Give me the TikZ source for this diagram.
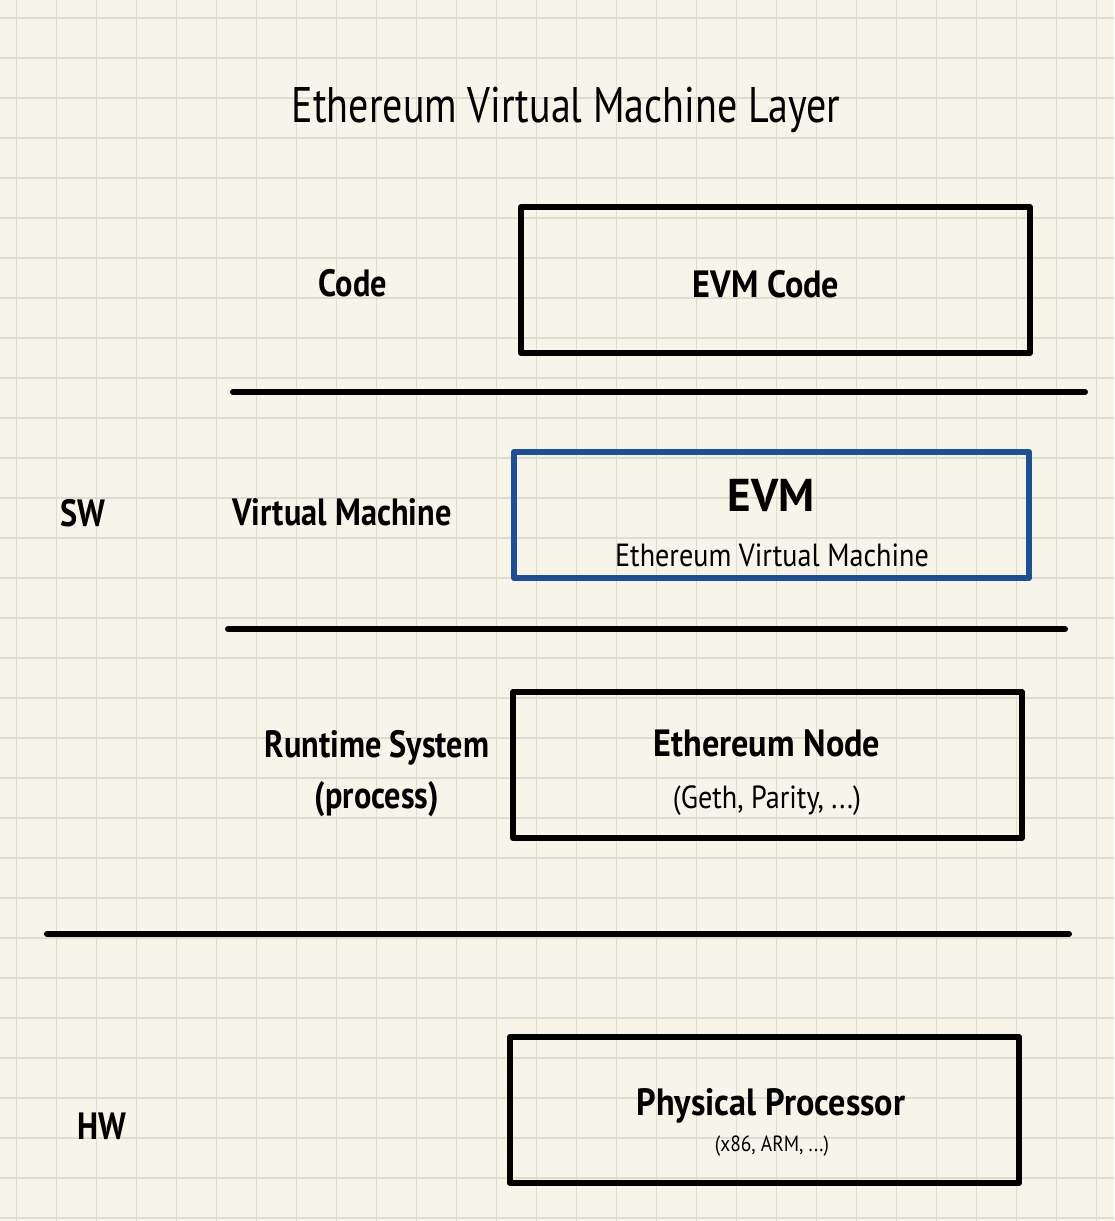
\documentclass[tikz,border=0pt]{standalone}
\usepackage{fontspec}
\newfontfamily\handT[FakeStretch=0.8]{PT Sans}
\newfontfamily\handS[FakeStretch=0.88]{PT Sans}
\newfontfamily\handB[FakeStretch=0.9]{PT Sans}
\newfontfamily\handL[FakeStretch=0.85]{PT Sans}
\newfontfamily\handE[FakeStretch=0.98]{PT Sans}
\definecolor{paper}{HTML}{F7F5E9}
\definecolor{gridc}{HTML}{DEDBCF}
\definecolor{evmblue}{HTML}{1E4F91}
\begin{document}
\begin{tikzpicture}[x=1pt,y=-1pt,
  box/.style={draw=black, line width=6pt, line join=round, rectangle, inner sep=0pt, outer sep=0pt},
  sep/.style={line width=6pt, line cap=round},
  lbl/.style={font=\handL\bfseries\fontsize{38}{44}\selectfont, anchor=base, inner sep=0pt},
  main/.style={font=\handB\bfseries\fontsize{38}{44}\selectfont, anchor=base, inner sep=0pt},
  sub/.style={font=\handS\fontsize{32}{38}\selectfont, anchor=base, inner sep=0pt},
  tiny/.style={font=\handS\fontsize{22}{26}\selectfont, anchor=base, inner sep=0pt}]
% background and grid
\fill[paper] (0,0) rectangle (1114,1221);
\useasboundingbox (0,0) rectangle (1114,1221);
\foreach \i in {0,...,27} \draw[gridc, line width=1.5pt] (16.7+40*\i,0) -- (16.7+40*\i,1221);
\foreach \j in {0,...,30} \draw[gridc, line width=1.5pt] (0,18+40*\j) -- (1114,18+40*\j);
% title
\node[font=\handT\fontsize{50}{60}\selectfont, anchor=base, inner sep=0pt] (title) at (566,122) {Ethereum Virtual Machine Layer};
% boxes
\node[box, minimum width=509pt, minimum height=146pt] (codebox) at (775.5,280) {};
\node[box, draw=evmblue, minimum width=515pt, minimum height=126pt] (evmbox) at (771.5,515) {};
\node[box, minimum width=509pt, minimum height=146pt] (nodebox) at (767.5,765) {};
\node[box, minimum width=509pt, minimum height=146pt] (cpubox) at (764.5,1110) {};
% separators
\draw[sep] (233,392) -- (1085,392);
\draw[sep] (228,629) -- (1065,629);
\draw[sep] (47,934) -- (1069,934);
% left labels
\node[lbl] (lcode) at (353,296) {Code};
\node[lbl] (lvm) at (342,525) {Virtual Machine};
\node[lbl] (lrt) at (377,757) {Runtime System};
\node[lbl] (lproc) at (377,808) {(process)};
\node[lbl] (sw) at (83,526) {SW};
\node[lbl] (hw) at (102,1139) {HW};
% box texts
\node[main] (tcode) at (766,297) {EVM Code};
\node[main, font=\handE\bfseries\fontsize{46}{52}\selectfont] (tevm) at (771,511) {EVM};
\node[sub] (tevm2) at (772,566) {Ethereum Virtual Machine};
\node[main] (tnode) at (767,756) {Ethereum Node};
\node[sub] (tnode2) at (767,808) {(Geth, Parity, ...)};
\node[main] (tcpu) at (771,1115) {Physical Processor};
\node[tiny] (tcpu2) at (772,1151) {(x86, ARM, ...)};
\end{tikzpicture}
\end{document}
